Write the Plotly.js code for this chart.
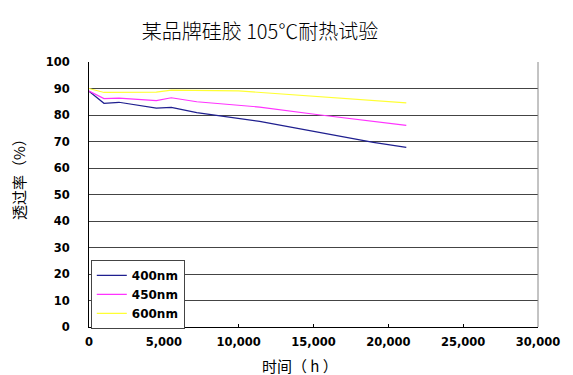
<!DOCTYPE html>
<html>
<head>
<meta charset="utf-8">
<script src="https://cdn.plot.ly/plotly-3.0.1.min.js"></script>
<style>html,body{margin:0;padding:0;background:#fff;}#chart{width:573px;height:375px;}</style>
</head>
<body>
<div id="chart"></div>
<script>
var seriesNames = ['400nm', '450nm', '600nm'];
var seriesColors = ['#1f1f8f', '#ff33ff', '#ffff33'];
var hours400 = [0, 1000, 2000, 4500, 5500, 7200, 11400, 19000, 21200];
var vals400 = [89, 84.4, 84.8, 82.6, 82.9, 80.9, 77.6, 69.7, 67.8];
var hours450 = [0, 1000, 2000, 4500, 5500, 7200, 11400, 15200, 21200];
var vals450 = [89, 86.2, 86.4, 85.4, 86.5, 85.0, 83.0, 80.2, 76.1];
var hours600 = [0, 1000, 4500, 5500, 10000, 16700, 21200];
var vals600 = [90, 88.5, 88.6, 89.4, 89.1, 86.4, 84.6];
var xTicks = [0, 5000, 10000, 15000, 20000, 25000, 30000];
var yTicks = [0, 10, 20, 30, 40, 50, 60, 70, 80, 90, 100];

var hoursAll = [hours400, hours450, hours600];
var valsAll = [vals400, vals450, vals600];
var traces = seriesNames.map(function(n, i){
  return {x: hoursAll[i], y: valsAll[i], name: n, type: 'scatter', mode: 'lines',
          line: {color: seriesColors[i], width: 1.2}};
});

var tickFont = {family: 'DejaVu Sans, sans-serif', size: 11.5, color: '#000', weight: 'bold'};
var cjk = 'Noto Sans CJK SC, sans-serif';
var layout = {
  width: 573, height: 375,
  margin: {l: 89, r: 35, t: 62, b: 48},
  paper_bgcolor: '#fff', plot_bgcolor: '#fff',
  showlegend: true,
  title: {text: '某品牌硅胶 105℃耐热试验', font: {family: cjk, size: 20, color: '#000', weight: 300},
          x: 260/573, xref: 'container', xanchor: 'center', y: 1 - 32/375, yref: 'container', yanchor: 'middle'},
  xaxis: {range: [0, 30000], tickvals: xTicks, ticktext: xTicks.map(function(v){return v.toLocaleString('en-US');}),
          showgrid: false, zeroline: false, showline: true, linecolor: '#000', linewidth: 1,
          ticks: 'inside', ticklen: 3, tickcolor: '#000', tickfont: tickFont, ticklabelstandoff: 4},
  yaxis: {range: [0, 100], tickvals: yTicks, showgrid: true, gridcolor: '#444', gridwidth: 1,
          zeroline: false, showline: true, linecolor: '#000', linewidth: 1,
          ticks: '', tickfont: tickFont, ticklabelstandoff: 16},
  annotations: [
    {text: '时间（ h ）', xref: 'paper', yref: 'paper', x: (300-89)/449, y: -(365-327)/265,
     xanchor: 'center', yanchor: 'middle', showarrow: false, font: {family: cjk, size: 15, color: '#000'}},
    {text: '透过率（%）', xref: 'paper', yref: 'paper', x: -(89-18)/449, y: (327-176)/265,
     xanchor: 'center', yanchor: 'middle', textangle: -90, showarrow: false, font: {family: cjk, size: 15, color: '#000'}}
  ],
  legend: {x: 0.004, y: 0.253, xanchor: 'left', yanchor: 'top', bgcolor: '#fff',
           bordercolor: '#444', borderwidth: 1, tracegroupgap: 0,
           font: {family: 'DejaVu Sans, sans-serif', size: 12, color: '#000', weight: 'bold'}},
  shapes: [{type: 'line', xref: 'paper', yref: 'paper', x0: 1, x1: 1, y0: 0, y1: 1,
            line: {color: '#888', width: 1}}]
};
Plotly.newPlot('chart', traces, layout, {displayModeBar: false, staticPlot: true});
</script>
</body>
</html>
